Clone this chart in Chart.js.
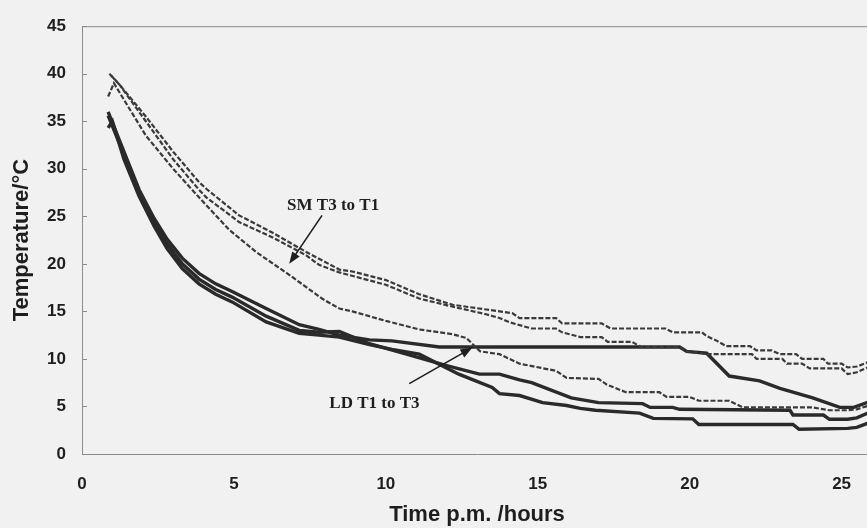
<!DOCTYPE html>
<html>
<head>
<meta charset="utf-8">
<script src="https://cdn.jsdelivr.net/npm/chart.js@4.4.1/dist/chart.umd.min.js"></script>
<style>
html, body { margin: 0; padding: 0; background: #f1f1f1; overflow: hidden; }
#wrap { position: relative; width: 880px; height: 528px; }
</style>
</head>
<body>
<div id="wrap"><canvas id="myChart"></canvas></div>
<script>
// [hours p.m., temperature °C]
const smT3 = [[0.96,39.8],[1.3,38.6],[2.1,35.5],[3.0,31.8],[3.85,28.6],[4.09,27.9],[5.17,25.1],[6.26,23.3],[7.38,21.25],[8.47,19.4],[8.9,19.2],[10.0,18.3],[11.1,16.8],[12.2,15.7],[13.3,15.2],[14.17,14.8],[14.4,14.3],[15.6,14.3],[15.8,13.75],[17.1,13.75],[17.4,13.2],[19.2,13.2],[19.44,12.8],[20.4,12.8],[20.56,12.4],[20.9,11.9],[21.2,11.35],[21.98,11.35],[22.2,10.9],[22.7,10.9],[22.97,10.5],[23.5,10.5],[23.7,10.0],[24.4,10.0],[24.55,9.5],[25.0,9.5],[25.2,9.1],[25.5,9.2],[26.0,9.8]];
const smT2 = [[0.9,40.0],[1.2,39.0],[2.1,35.0],[3.0,31.0],[3.85,27.8],[4.09,27.0],[5.17,24.4],[6.26,22.8],[7.38,20.9],[7.8,19.9],[8.47,19.1],[10.0,17.8],[11.1,16.35],[12.2,15.5],[13.3,14.7],[13.74,14.3],[14.07,13.85],[14.8,13.2],[15.6,13.2],[15.8,12.8],[16.4,12.3],[17.1,12.3],[17.3,11.8],[18.1,11.8],[18.4,11.25],[19.7,11.25],[19.9,10.8],[20.4,10.6],[20.56,10.5],[22.05,10.5],[22.2,10.0],[23.05,10.0],[23.2,9.5],[23.7,9.5],[23.95,9.0],[25.0,9.0],[25.2,8.4],[25.5,8.6],[26.0,9.3]];
const smT1 = [[0.86,37.6],[1.05,39.0],[2.1,33.5],[3.0,30.0],[3.85,27.0],[4.84,23.6],[5.73,21.25],[6.82,18.85],[7.9,16.35],[8.47,15.3],[8.9,15.0],[10.0,14.0],[11.1,13.1],[12.2,12.6],[12.65,12.2],[13.1,10.8],[13.74,10.5],[14.4,9.5],[15.6,8.75],[15.95,8.0],[17.0,7.9],[17.27,7.3],[17.9,6.5],[19.0,6.5],[19.24,6.0],[20.0,6.0],[20.3,5.6],[21.3,5.6],[21.75,4.9],[24.05,4.9],[24.6,4.6],[25.2,4.6],[25.5,4.7],[26.0,5.2]];

const ldT1 = [[0.86,36.0],[1.38,31.8],[1.88,27.8],[2.37,24.8],[2.8,22.6],[3.3,20.6],[3.85,19.0],[4.4,17.9],[4.94,17.1],[6.06,15.3],[7.15,13.6],[7.8,13.1],[8.47,12.5],[9.46,12.0],[10.2,11.9],[11.76,11.25],[19.67,11.25],[19.9,10.8],[20.56,10.6],[21.3,8.2],[22.3,7.7],[22.97,6.9],[24.05,5.9],[24.94,4.9],[25.4,4.9],[26.0,5.6]];
const ldT2 = [[0.86,35.6],[1.38,31.5],[1.88,27.5],[2.37,24.4],[2.8,22.1],[3.3,20.0],[3.85,18.4],[4.4,17.3],[4.94,16.5],[6.06,14.5],[7.15,13.0],[7.8,12.8],[8.47,12.9],[9.46,11.6],[10.68,10.5],[12.0,9.3],[13.08,8.4],[13.74,8.4],[14.4,7.8],[14.8,7.5],[16.1,5.9],[17.0,5.4],[18.45,5.3],[18.7,4.9],[19.44,4.9],[19.67,4.7],[23.3,4.6],[23.4,4.1],[24.4,4.1],[24.6,3.65],[25.2,3.65],[25.5,3.8],[26.0,4.5]];
const ldT3 = [[0.86,34.3],[1.0,35.0],[1.38,31.0],[1.88,27.1],[2.37,24.0],[2.8,21.6],[3.3,19.5],[3.85,17.9],[4.4,16.8],[4.94,16.0],[6.06,13.9],[7.15,12.7],[7.8,12.5],[8.47,12.3],[9.46,11.5],[10.2,11.0],[11.1,10.5],[12.4,8.4],[13.5,7.0],[13.74,6.35],[14.4,6.15],[15.16,5.4],[15.95,5.1],[16.4,4.8],[16.9,4.6],[18.35,4.3],[18.8,3.75],[20.1,3.7],[20.3,3.1],[23.4,3.1],[23.6,2.6],[25.2,2.7],[25.5,2.8],[26.0,3.4]];

const xTicks = [0, 5, 10, 15, 20, 25];
const yTicks = [0, 5, 10, 15, 20, 25, 30, 35, 40, 45];

// labels placed in data units: [text, x, y], arrow [fromX, fromY, toX, toY]
const smLabel = ['SM T3 to T1', 6.75, 25.7];
const smArrow = [7.9, 25.1, 6.82, 20.0];
const ldLabel = ['LD T1 to T3', 8.14, 4.8];
const ldArrow = [10.77, 7.4, 12.85, 11.2];

const tickFont = { family: '"Liberation Sans", Arial, sans-serif', size: 17, weight: 'bold' };
const titleFont = { family: '"Liberation Sans", Arial, sans-serif', size: 22, weight: 'bold' };

function toXY(arr) {
    return arr.map(p => ({ x: p[0], y: p[1] }));
}

function smSet(label, arr) {
    return {
        label: label,
        data: toXY(arr),
        borderColor: '#3a3a3a',
        borderWidth: 2.2,
        borderDash: [5, 2],
        pointRadius: 0,
        tension: 0,
        fill: false
    };
}

function ldSet(label, arr) {
    return {
        label: label,
        data: toXY(arr),
        borderColor: '#2a2a2a',
        borderWidth: 3.4,
        pointRadius: 0,
        tension: 0,
        fill: false
    };
}

function drawArrow(ctx, x1, y1, x2, y2) {
    const a = Math.atan2(y2 - y1, x2 - x1);
    const len = 12, hw = 4.5;
    ctx.beginPath();
    ctx.moveTo(x1, y1);
    ctx.lineTo(x2 - Math.cos(a) * len * 0.6, y2 - Math.sin(a) * len * 0.6);
    ctx.stroke();
    ctx.beginPath();
    ctx.moveTo(x2, y2);
    ctx.lineTo(x2 - Math.cos(a) * len - Math.sin(a) * hw, y2 - Math.sin(a) * len + Math.cos(a) * hw);
    ctx.lineTo(x2 - Math.cos(a) * len + Math.sin(a) * hw, y2 - Math.sin(a) * len - Math.cos(a) * hw);
    ctx.closePath();
    ctx.fill();
}

const paperPlugin = {
    id: 'paper',
    beforeDraw(chart) {
        const ctx = chart.ctx;
        ctx.save();
        ctx.fillStyle = '#f1f1f1';
        ctx.fillRect(0, 0, chart.width, chart.height);
        ctx.restore();
    },
    afterDraw(chart) {
        const ctx = chart.ctx;
        const area = chart.chartArea;
        const xs = chart.scales.x, ys = chart.scales.y;
        ctx.save();
        // top frame line and small inward ticks on the temperature axis
        ctx.strokeStyle = '#8a8a8a';
        ctx.lineWidth = 1;
        ctx.beginPath();
        ctx.moveTo(area.left, area.top + 0.5);
        ctx.lineTo(area.right, area.top + 0.5);
        yTicks.forEach(v => {
            const py = Math.round(ys.getPixelForValue(v)) + 0.5;
            ctx.moveTo(area.left, py);
            ctx.lineTo(area.left + 5, py);
        });
        ctx.stroke();

        // annotations
        ctx.fillStyle = '#1e1e1e';
        ctx.strokeStyle = '#1e1e1e';
        ctx.lineWidth = 1.6;
        ctx.font = 'bold 17px "Liberation Serif", "Times New Roman", serif';
        ctx.textAlign = 'left';
        ctx.textBaseline = 'alphabetic';
        [[smLabel, smArrow], [ldLabel, ldArrow]].forEach(([lab, arr]) => {
            ctx.fillText(lab[0], xs.getPixelForValue(lab[1]), ys.getPixelForValue(lab[2]));
            drawArrow(ctx,
                xs.getPixelForValue(arr[0]), ys.getPixelForValue(arr[1]),
                xs.getPixelForValue(arr[2]), ys.getPixelForValue(arr[3]));
        });
        ctx.restore();
    }
};

const ctx = document.getElementById('myChart').getContext('2d');
const tempChart = new Chart(ctx, {
    type: 'line',
    data: {
        datasets: [
            smSet('SM T3', smT3),
            smSet('SM T2', smT2),
            smSet('SM T1', smT1),
            ldSet('LD T1', ldT1),
            ldSet('LD T2', ldT2),
            ldSet('LD T3', ldT3)
        ]
    },
    options: {
        responsive: true,
        maintainAspectRatio: false,
        animation: false,
        layout: { padding: { top: 22, right: 8, left: 0, bottom: 0 } },
        plugins: {
            legend: { display: false },
            tooltip: { enabled: false }
        },
        scales: {
            x: {
                type: 'linear',
                min: 0,
                max: 26,
                afterFit(scale) { scale.height = 74; },
                afterBuildTicks(scale) { scale.ticks = xTicks.map(v => ({ value: v })); },
                grid: { drawOnChartArea: false, drawTicks: false },
                border: { display: true, color: '#8a8a8a', width: 1 },
                ticks: { font: tickFont, color: '#1e1e1e', padding: 20, maxRotation: 0 },
                title: {
                    display: true,
                    text: 'Time p.m. /hours',
                    font: titleFont,
                    color: '#1e1e1e',
                    padding: { top: 0, bottom: 0 }
                }
            },
            y: {
                min: 0,
                max: 45,
                afterFit(scale) { scale.width = 82; },
                afterBuildTicks(scale) { scale.ticks = yTicks.map(v => ({ value: v })); },
                grid: { drawOnChartArea: false, drawTicks: false },
                border: { display: true, color: '#8a8a8a', width: 1 },
                ticks: { font: tickFont, color: '#1e1e1e', padding: 16 },
                title: {
                    display: true,
                    text: 'Temperature/°C',
                    font: titleFont,
                    color: '#1e1e1e',
                    padding: { top: 9, bottom: 0 }
                }
            }
        }
    },
    plugins: [paperPlugin]
});
</script>
</body>
</html>
